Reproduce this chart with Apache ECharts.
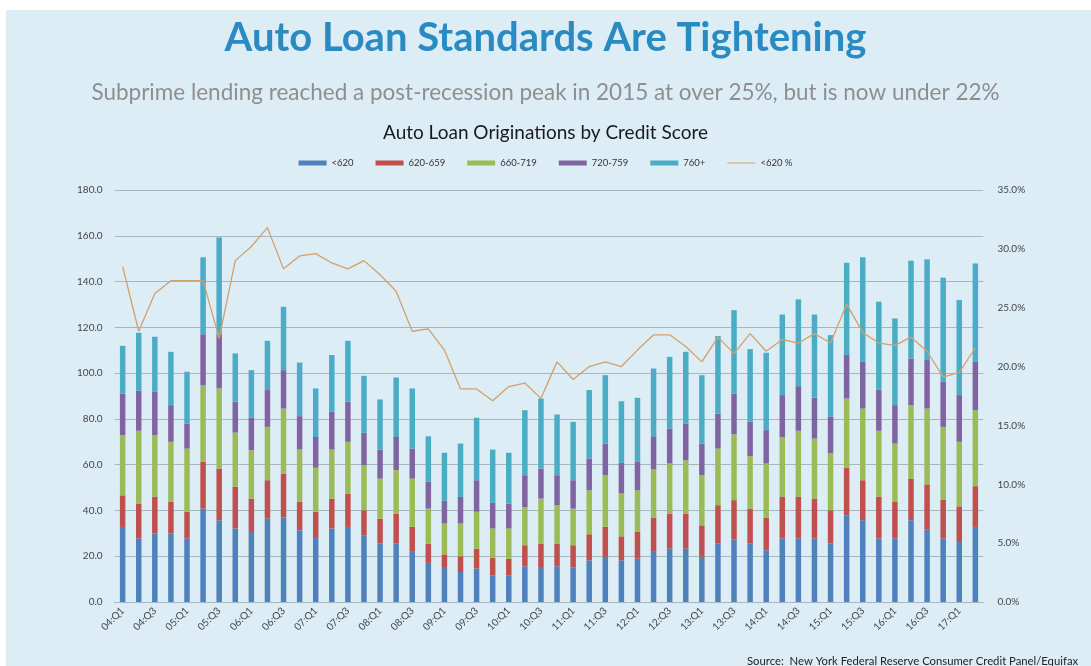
<!DOCTYPE html>
<html>
<head>
<meta charset="utf-8">
<script src="https://cdn.jsdelivr.net/npm/echarts@6/dist/echarts.min.js"></script>
<style>
html,body{margin:0;padding:0;background:#ffffff;}
#bg{position:absolute;left:6px;top:10px;width:1085px;height:656px;background:#ddedf6;}
#chart{position:absolute;left:0;top:0;width:1091px;height:666px;}
</style>
</head>
<body>
<div id="bg"></div>
<div id="chart"></div>
<script>
// ---- Data (billions of dollars, by quarter) ----
const quarters = [
 '04:Q1','04:Q2','04:Q3','04:Q4','05:Q1','05:Q2','05:Q3','05:Q4',
 '06:Q1','06:Q2','06:Q3','06:Q4','07:Q1','07:Q2','07:Q3','07:Q4',
 '08:Q1','08:Q2','08:Q3','08:Q4','09:Q1','09:Q2','09:Q3','09:Q4',
 '10:Q1','10:Q2','10:Q3','10:Q4','11:Q1','11:Q2','11:Q3','11:Q4',
 '12:Q1','12:Q2','12:Q3','12:Q4','13:Q1','13:Q2','13:Q3','13:Q4',
 '14:Q1','14:Q2','14:Q3','14:Q4','15:Q1','15:Q2','15:Q3','15:Q4',
 '16:Q1','16:Q2','16:Q3','16:Q4','17:Q1','17:Q2'
];
const below620 = [32.8,27.7,29.9,29.9,27.7,40.8,35.7,32.1,30.6,36.4,36.9,31.3,28.4,32.1,32.8,29.2,
 25.5,25.5,21.9,17.1,15.3,13.1,14.6,11.7,11.7,15.6,15.3,15.6,15.0,18.2,19.7,18.2,
 18.9,21.9,23.3,23.3,19.7,25.5,27.3,25.5,22.6,27.7,27.7,27.7,25.5,37.9,35.7,27.7,
 27.7,35.7,31.6,27.7,26.2,32.8];
const s620_659 = [13.8,15.3,16.0,13.8,11.7,20.4,22.6,18.2,14.6,16.8,19.2,12.4,11.0,13.1,14.6,10.9,
 10.9,13.1,10.9,8.4,5.5,6.9,8.7,7.5,7.2,9.2,10.2,9.9,9.8,11.4,13.1,10.5,
 11.7,15.0,15.3,15.3,13.8,16.8,17.2,15.3,14.3,18.2,18.2,17.5,14.6,20.8,17.5,18.2,
 16.0,18.2,19.8,17.0,15.6,17.8];
const s660_719 = [26.3,31.8,27.0,26.3,27.6,33.5,35.0,23.7,21.1,23.3,28.4,22.9,19.3,21.4,22.6,19.7,
 17.5,19.0,21.1,15.3,13.5,14.3,16.1,12.9,13.2,16.7,19.7,16.8,16.0,19.2,22.6,18.7,
 18.2,21.0,21.9,23.3,21.9,24.7,28.8,22.9,23.6,26.2,28.9,26.2,24.8,30.2,31.3,28.9,
 25.5,32.1,33.1,31.8,28.2,33.2];
const s720_759 = [18.2,17.5,18.9,16.0,11.0,22.3,23.7,13.5,14.3,16.1,16.8,14.6,13.4,16.5,17.5,14.1,
 12.7,14.5,13.1,11.7,9.9,11.6,13.8,11.2,10.9,13.9,13.1,13.1,12.4,13.9,13.8,13.4,
 12.4,14.5,15.3,16.1,13.8,15.3,17.8,15.0,14.6,18.3,19.5,17.9,16.0,19.0,20.4,18.0,
 16.8,20.4,21.2,19.7,20.4,21.1];
const s760plus = [20.8,25.3,24.1,23.3,22.6,33.6,42.3,21.1,20.7,21.5,27.7,23.4,21.2,24.8,26.6,24.9,
 21.9,26.0,26.3,19.9,21.0,23.3,27.3,23.3,22.2,28.4,30.6,26.5,25.5,29.9,29.9,26.9,
 28.0,29.6,31.3,31.3,29.9,33.9,36.4,31.8,33.8,35.2,37.9,36.3,35.7,40.3,45.7,38.4,
 37.9,42.7,44.0,45.5,41.5,43.0];
const pctBelow620 = [28.5,23.0,26.2,27.3,27.3,27.3,22.4,29.0,30.2,31.8,28.3,29.4,29.6,28.8,28.3,29.0,
 27.8,26.4,23.0,23.2,21.4,18.1,18.1,17.1,18.3,18.6,17.3,20.4,18.9,20.0,20.4,20.0,
 21.4,22.7,22.7,21.7,20.4,22.5,21.1,22.8,21.3,22.3,22.0,22.8,22.0,25.3,22.9,22.0,
 21.8,22.5,21.3,19.1,19.5,21.6];
const seriesNames = ['<620','620-659','660-719','720-759','760+','<620 %'];
const leftTicks = {min:0, max:180, interval:20};
const rightTicks = {min:0, max:35, interval:5};

const colors = ['#4f81bd','#c0504d','#9bbb59','#8064a2','#4bacc6','#d2a06c'];
const barData = [below620, s620_659, s660_719, s720_759, s760plus];

const chart = echarts.init(document.getElementById('chart'));
const font = 'Lato, "Open Sans", sans-serif';
const series = barData.map((d,i)=>({
  name: seriesNames[i], type:'bar', stack:'total', data:d, barWidth:5.5,
  itemStyle:{color:colors[i]}, yAxisIndex:0
}));
series.push({
  name: seriesNames[5], type:'line', yAxisIndex:1, data:pctBelow620,
  symbol:'none', lineStyle:{color:colors[5], width:1.3}, itemStyle:{color:colors[5]}
});

chart.setOption({
  animation:false,
  backgroundColor:'transparent',
  title:[
    {text:'Auto Loan Standards Are Tightening', left:'center', top:13,
     textStyle:{fontFamily:font, fontSize:40, fontWeight:'bold', color:'#2a8ac2'}},
    {text:'Subprime lending reached a post-recession peak in 2015 at over 25%, but is now under 22%',
     left:'center', top:76, textStyle:{fontFamily:font, fontSize:22.5, fontWeight:'normal', color:'#8e8e8e'}},
    {text:'Auto Loan Originations by Credit Score', left:'center', top:118,
     textStyle:{fontFamily:font, fontSize:19, fontWeight:'normal', color:'#1a1a1a'}},
    {text:'Source:  New York Federal Reserve Consumer Credit Panel/Equifax', left:742, top:651,
     textStyle:{fontFamily:font, fontSize:11.3, fontWeight:'normal', color:'#222'}}
  ],
  legend:{
    top:153, left:'center', itemWidth:28, itemHeight:5, itemGap:22,
    textStyle:{fontFamily:font, fontSize:9.5, color:'#333'},
    data:[
      {name:'<620', icon:'rect'},{name:'620-659', icon:'rect'},{name:'660-719', icon:'rect'},
      {name:'720-759', icon:'rect'},{name:'760+', icon:'rect'},
      {name:'<620 %', icon:'path://M0 0H28V1H0Z'}
    ]
  },
  grid:{left:114.6, right:107.6, top:190, bottom:64, containLabel:false},
  xAxis:{
    type:'category', data:quarters, boundaryGap:true,
    axisLine:{lineStyle:{color:'#a9b6bd'}},
    axisTick:{show:false},
    axisLabel:{interval:1, rotate:45, fontFamily:font, fontSize:10, color:'#444', margin:7}
  },
  yAxis:[
    {type:'value', min:leftTicks.min, max:leftTicks.max, interval:leftTicks.interval,
     axisLine:{show:false}, axisTick:{show:false},
     axisLabel:{formatter:v=>v.toFixed(1), fontFamily:font, fontSize:10, color:'#444', margin:12},
     splitLine:{lineStyle:{color:'#a9b6bd', width:1}}},
    {type:'value', min:rightTicks.min, max:rightTicks.max, interval:rightTicks.interval,
     axisLine:{show:false}, axisTick:{show:false},
     axisLabel:{formatter:v=>v.toFixed(1)+'%', fontFamily:font, fontSize:10, color:'#444', margin:14},
     splitLine:{show:false}}
  ],
  series:series
});
</script>
</body>
</html>
